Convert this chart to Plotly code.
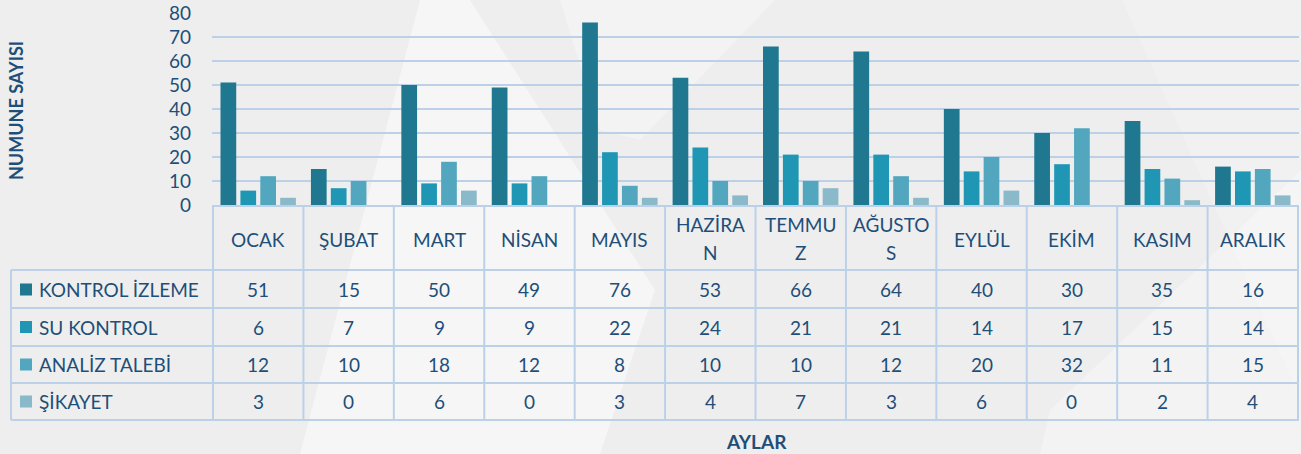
import plotly.graph_objects as go

# ---------------- data ----------------
months = ["OCAK", "ŞUBAT", "MART", "NİSAN", "MAYIS", "HAZİRAN",
          "TEMMUZ", "AĞUSTOS", "EYLÜL", "EKİM", "KASIM", "ARALIK"]
header_lines = [["OCAK"], ["ŞUBAT"], ["MART"], ["NİSAN"], ["MAYIS"], ["HAZİRA", "N"],
                ["TEMMU", "Z"], ["AĞUSTO", "S"], ["EYLÜL"], ["EKİM"], ["KASIM"], ["ARALIK"]]
series_names = ["KONTROL İZLEME", "SU KONTROL", "ANALİZ TALEBİ", "ŞİKAYET"]
kontrol_izleme = [51, 15, 50, 49, 76, 53, 66, 64, 40, 30, 35, 16]
su_kontrol = [6, 7, 9, 9, 22, 24, 21, 21, 14, 17, 15, 14]
analiz_talebi = [12, 10, 18, 12, 8, 10, 10, 12, 20, 32, 11, 15]
sikayet = [3, 0, 6, 0, 3, 4, 7, 3, 6, 0, 2, 4]
y_ticks = [0, 10, 20, 30, 40, 50, 60, 70, 80]
y_title = "NUMUNE SAYISI"
x_title = "AYLAR"

series_values = [kontrol_izleme, su_kontrol, analiz_talebi, sikayet]
colors = ["#1f7790", "#1f97b4", "#52a6bd", "#8ab9c9"]

# ---------------- layout geometry (pixels) ----------------
W, H = 1301, 454
L, R, T, B = 212, 1299, 13, 205
TXT = "#1f4e79"
LINE = "#bcd1e8"
FONT = "Lato"


def px(x):
    return (x - L) / (R - L)


def py(y):
    return (B - y) / (B - T)


fig = go.Figure()
for name, vals, c in zip(series_names, series_values, colors):
    fig.add_trace(go.Bar(x=months, y=vals, name=name, marker=dict(color=c, line=dict(width=0))))

shapes = []
annotations = []

# background light shapes
bg_polys = [
    ([(420, 0), (470, 0), (655, 290), (600, 454), (300, 454)], 0.45),
    ([(560, 0), (775, 0), (640, 140), (600, 130)], 0.3),
    ([(1301, 170), (1301, 454), (1040, 454), (1050, 410)], 0.3),
    ([(1122, 0), (1301, 0), (1301, 400)], 0.2),
]
for pts, op in bg_polys:
    path = "M " + " L ".join(f"{px(a):.5f},{py(b):.5f}" for a, b in pts) + " Z"
    shapes.append(dict(type="path", xref="paper", yref="paper", path=path,
                       fillcolor="white", opacity=op, line=dict(width=0), layer="below"))

# table geometry
row_lines = [270, 308, 346, 383, 420]
row_centers = [289.5, 327, 364.5, 401.5]
header_top = 206
table_left = 11

# horizontal lines
shapes.append(dict(type="line", xref="paper", yref="paper", x0=px(L), x1=px(R),
                   y0=py(header_top), y1=py(header_top), line=dict(color=LINE, width=2)))
for yl in row_lines:
    shapes.append(dict(type="line", xref="paper", yref="paper", x0=px(table_left), x1=px(R),
                       y0=py(yl), y1=py(yl), line=dict(color=LINE, width=2)))
# vertical lines
shapes.append(dict(type="line", xref="paper", yref="paper", x0=px(table_left), x1=px(table_left),
                   y0=py(row_lines[0]), y1=py(row_lines[-1]), line=dict(color=LINE, width=2)))
for i in range(len(months) + 1):
    shapes.append(dict(type="line", xref="x", yref="paper", x0=i - 0.5, x1=i - 0.5,
                       y0=py(header_top), y1=py(row_lines[-1]), line=dict(color=LINE, width=2)))

TF = dict(size=19, color=TXT, family=FONT)

# header labels
for m, lines in zip(months, header_lines):
    ys = [239] if len(lines) == 1 else [224.5, 252.5]
    for ln, yy in zip(lines, ys):
        annotations.append(dict(x=m, xref="x", y=py(yy), yref="paper", text=ln,
                                xanchor="center", yanchor="middle", showarrow=False, font=TF))

# row labels, legend keys and values
for name, vals, c, yc in zip(series_names, series_values, colors, row_centers):
    shapes.append(dict(type="rect", xref="paper", yref="paper", x0=px(20), x1=px(32),
                       y0=py(yc - 6), y1=py(yc + 6), fillcolor=c, line=dict(width=0)))
    annotations.append(dict(x=px(37), xref="paper", y=py(yc), yref="paper", text=name,
                            xanchor="left", yanchor="middle", showarrow=False, font=TF))
    for m, v in zip(months, vals):
        annotations.append(dict(x=m, xref="x", y=py(yc), yref="paper", text=str(v),
                                xanchor="center", yanchor="middle", showarrow=False, font=TF))

# axis titles
annotations.append(dict(x=px(16), xref="paper", y=py(111), yref="paper", text=f"<b>{y_title}</b>",
                        textangle=-90, xanchor="center", yanchor="middle", showarrow=False,
                        font=dict(size=18, color=TXT, family=FONT)))
annotations.append(dict(x=px(756), xref="paper", y=py(441), yref="paper", text=f"<b>{x_title}</b>",
                        xanchor="center", yanchor="middle", showarrow=False,
                        font=dict(size=19, color=TXT, family=FONT)))

fig.update_layout(
    width=W, height=H,
    margin=dict(l=L, r=W - R, t=T, b=H - B, pad=0),
    paper_bgcolor="#eeeeee", plot_bgcolor="rgba(0,0,0,0)",
    barmode="group", bargap=0.12, bargroupgap=0.21,
    showlegend=False,
    shapes=shapes, annotations=annotations,
    font=dict(family=FONT, color=TXT),
    xaxis=dict(showticklabels=False, showgrid=False, zeroline=False, showline=False,
               ticks="", fixedrange=True),
    yaxis=dict(range=[0, 80], tickvals=y_ticks, showgrid=True, gridcolor=LINE, gridwidth=2,
               zeroline=False, showline=False, ticks="", ticklabelstandoff=20,
               tickfont=dict(size=19, color=TXT, family=FONT), fixedrange=True),
)

fig.write_html("out.html", config={"displayModeBar": False},
               post_script="document.body.style.margin='0';document.body.style.overflow='hidden';")
